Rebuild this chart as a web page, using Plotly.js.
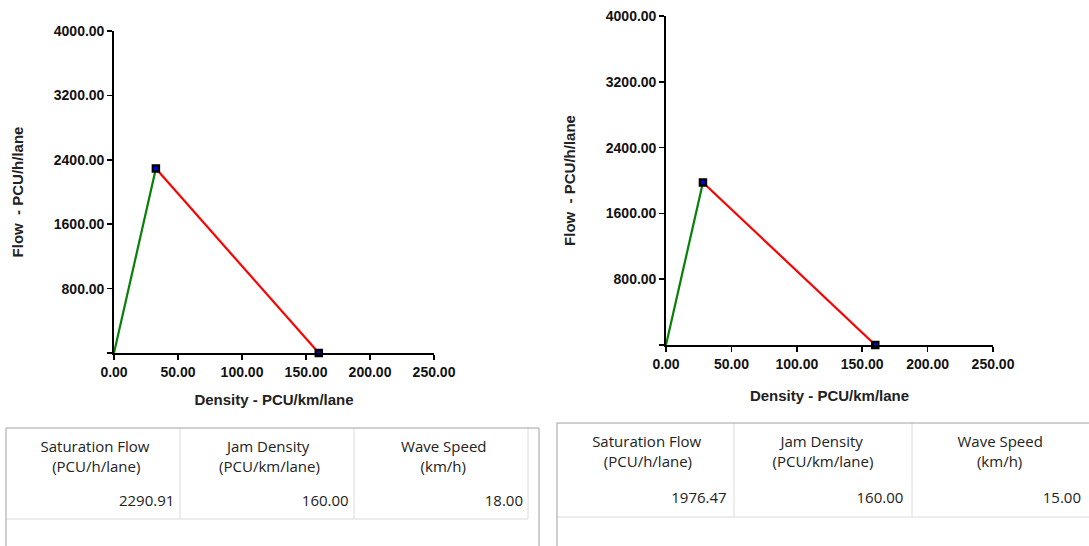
<!DOCTYPE html>
<html>
<head>
<meta charset="utf-8">
<script src="https://cdn.plot.ly/plotly-3.0.1.min.js"></script>
<style>html,body{margin:0;padding:0;background:#fff;}#chart{width:1089px;height:546px;}</style>
</head>
<body>
<div id="chart"></div>
<script>
// ---- Data: left diagram (A) ----
const satFlowA = 2290.91;      // PCU/h/lane
const jamDensityA = 160.00;    // PCU/km/lane
const waveSpeedA = 18.00;      // km/h
const freeDensityA = [0, 32.73];
const freeFlowA = [0, 2290.91];
const congDensityA = [32.73, 160];
const congFlowA = [2290.91, 0];

// ---- Data: right diagram (B) ----
const satFlowB = 1976.47;
const jamDensityB = 160.00;
const waveSpeedB = 15.00;
const freeDensityB = [0, 28.24];
const freeFlowB = [0, 1976.47];
const congDensityB = [28.24, 160];
const congFlowB = [1976.47, 0];

// ---- Axis ticks ----
const xTickVals = [0, 50, 100, 150, 200, 250];
const xTickText = ['0.00', '50.00', '100.00', '150.00', '200.00', '250.00'];
const yTickVals = [0, 800, 1600, 2400, 3200, 4000];
const yTickText = ['', '800.00', '1600.00', '2400.00', '3200.00', '4000.00'];

// ---- Table headers (two lines each; leading spaces centre the shorter line) ----
const tableHeaders = [
  'Saturation Flow<br>\u00a0\u00a0\u00a0(PCU/h/lane)',
  '\u00a0\u00a0Jam Density<br>(PCU/km/lane)',
  'Wave Speed<br>\u00a0\u00a0\u00a0\u00a0\u00a0(km/h)'
];

const W = 1089, H = 546;
const px = v => v / W;
const py = v => 1 - v / H;

const markerStyle = {symbol: 'square', size: 6, color: '#0000ff', line: {color: '#000', width: 2.5}};

function branchTraces(fd, ff, cd, cf, xa, ya) {
  return [
    {type: 'scatter', mode: 'lines', x: fd, y: ff, xaxis: xa, yaxis: ya,
     line: {color: '#078007', width: 2.2}, hoverinfo: 'skip'},
    {type: 'scatter', mode: 'lines', x: cd, y: cf, xaxis: xa, yaxis: ya,
     line: {color: '#ff0000', width: 2.2}, hoverinfo: 'skip'},
    {type: 'scatter', mode: 'markers', x: cd, y: cf, xaxis: xa, yaxis: ya,
     marker: markerStyle, cliponaxis: false, hoverinfo: 'skip'}
  ];
}

const tableFont = {family: 'Open Sans, Noto Sans, sans-serif', size: 15, color: '#222'};
const clear = 'rgba(0,0,0,0)';

function tableTrace(values, x0, x1, yTop, headerH, cellH, colW) {
  return {
    type: 'table',
    domain: {x: [px(x0), px(x1)], y: [0, py(yTop)]},
    columnwidth: colW,
    header: {
      values: tableHeaders,
      align: 'center',
      height: headerH,
      fill: {color: clear},
      line: {color: clear, width: 0},
      font: tableFont
    },
    cells: {
      values: values.map(v => [v.toFixed(2)]),
      align: 'right',
      height: cellH,
      fill: {color: clear},
      line: {color: clear, width: 0},
      font: tableFont
    }
  };
}

const data = [
  ...branchTraces(freeDensityA, freeFlowA, congDensityA, congFlowA, 'x', 'y'),
  ...branchTraces(freeDensityB, freeFlowB, congDensityB, congFlowB, 'x2', 'y2'),
  tableTrace([satFlowA, jamDensityA, waveSpeedA], 8, 531, 428, 59, 32, [174, 174, 174]),
  tableTrace([satFlowB, jamDensityB, waveSpeedB], 559, 1094, 423, 61, 33, [177, 178, 179])
];

const tickFont = {family: 'Liberation Sans, Arial, sans-serif', size: 14, color: '#111', weight: 'bold'};
const titleFont = {family: 'Liberation Sans, Arial, sans-serif', size: 15, color: '#222'};

function xAxis(x0, x1, anchor, standoff) {
  return {
    domain: [px(x0), px(x1)], anchor: anchor, range: [0, 250],
    tickvals: xTickVals, ticktext: xTickText, tickfont: tickFont,
    ticks: 'outside', ticklen: 5, tickwidth: 1.5, tickcolor: '#000',
    showline: true, linecolor: '#000', linewidth: 1.8,
    showgrid: false, zeroline: false, fixedrange: true,
    title: {text: '<b>Density - PCU/km/lane</b>', font: titleFont, standoff: standoff}
  };
}
function yAxis(yTop, yBot, anchor) {
  return {
    domain: [py(yBot), py(yTop)], anchor: anchor, range: [0, 4000],
    tickvals: yTickVals, ticktext: yTickText, tickfont: tickFont,
    ticks: 'outside', ticklen: 5, tickwidth: 1.5, tickcolor: '#000',
    showline: true, linecolor: '#000', linewidth: 1.8,
    showgrid: false, zeroline: false, fixedrange: true,
    title: {text: '<b>Flow&nbsp;&nbsp;- PCU/h/lane</b>', font: titleFont, standoff: 26}
  };
}

const gridLine = {color: '#dcdcdc', width: 1};
const border = {color: '#a0a0a0', width: 1};
function seg(x0, y0, x1, y1, line) {
  return {type: 'line', xref: 'paper', yref: 'paper', x0: px(x0), x1: px(x1), y0: py(y0), y1: py(y1), line: line, layer: 'above'};
}

const layout = {
  width: W, height: H,
  margin: {l: 0, r: 0, t: 0, b: 0, pad: 0},
  paper_bgcolor: '#ffffff', plot_bgcolor: '#ffffff',
  showlegend: false,
  xaxis: xAxis(114, 434, 'y', 16), yaxis: yAxis(31, 353, 'x'),
  xaxis2: xAxis(666, 993, 'y2', 20), yaxis2: yAxis(16, 345, 'x2'),
  shapes: [
    // left table grid
    seg(180, 428, 180, 519, gridLine), seg(354, 428, 354, 519, gridLine),
    seg(528, 428, 528, 519, gridLine), seg(6, 519, 528, 519, gridLine),
    // right table grid
    seg(734, 423, 734, 517, gridLine), seg(912, 423, 912, 517, gridLine),
    seg(557, 517, 1089, 517, gridLine),
    // outer borders
    {type: 'rect', xref: 'paper', yref: 'paper', x0: px(6), x1: px(539), y0: -0.2, y1: py(428),
     line: border, fillcolor: clear, layer: 'above'},
    {type: 'rect', xref: 'paper', yref: 'paper', x0: px(557), x1: px(1100), y0: -0.2, y1: py(423),
     line: border, fillcolor: clear, layer: 'above'}
  ]
};

Plotly.newPlot('chart', data, layout, {displayModeBar: false, staticPlot: true});
</script>
</body>
</html>
